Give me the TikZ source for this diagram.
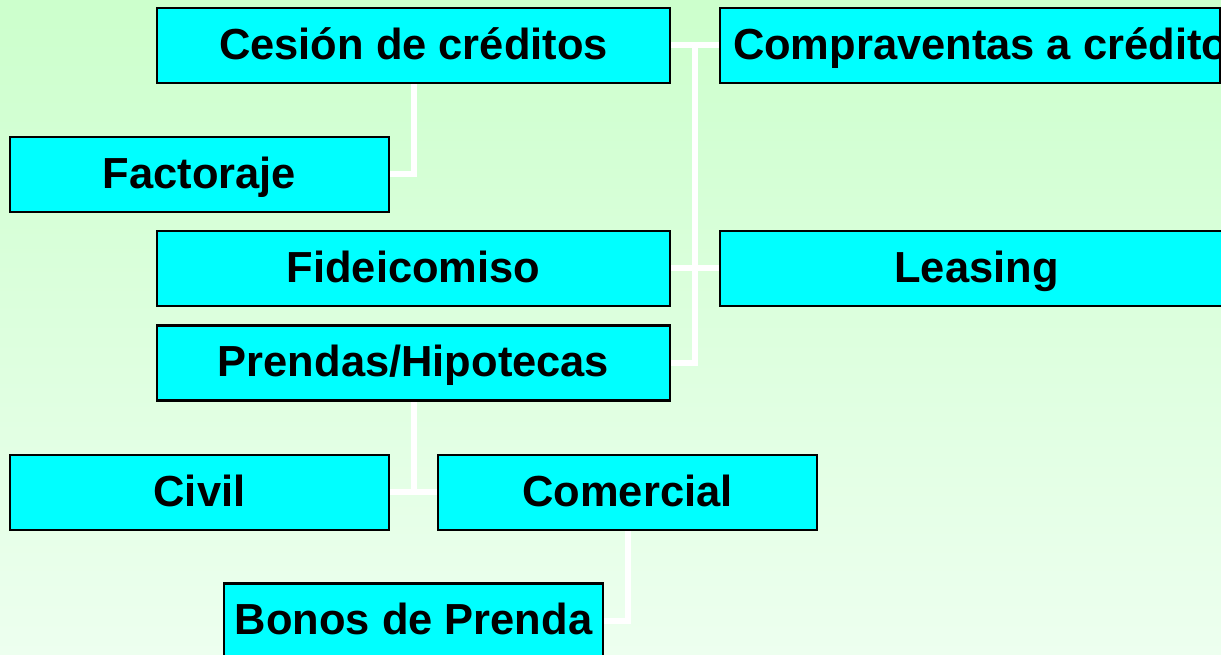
\documentclass[tikz,border=0pt]{standalone}
\usepackage{fontspec}
\setmainfont{Liberation Sans}
\usetikzlibrary{calc}
\definecolor{boxcyan}{HTML}{00FFFF}
\definecolor{bgtop}{HTML}{CCFFCC}
\definecolor{bgbot}{HTML}{EDFFEF}
\pgfdeclarelayer{bglayer}
\pgfdeclarelayer{linklayer}
\pgfsetlayers{bglayer,linklayer,main}
\begin{document}
\begin{tikzpicture}[x=0.75pt,y=-0.75pt,
  box/.style={draw=black, line width=1.7pt, fill=boxcyan, inner sep=0pt,
    font=\bfseries\fontsize{32.6}{36}\selectfont, text height=27pt, text depth=6.2pt,
    minimum width=513*0.75pt, minimum height=75*0.75pt},
  narrow/.style={box, minimum width=379*0.75pt},
  link/.style={draw=white, line width=4.5pt, line join=miter}]
\clip (0,0) rectangle (1221,655);
\begin{pgfonlayer}{bglayer}
\shade[top color=bgtop, bottom color=bgbot] (0,0) rectangle (1221,655);
\end{pgfonlayer}
% nodes
\node[box] (ces) at (413.5,45.5) {Cesión de créditos};
\node[box, minimum width=500*0.75pt, inner xsep=13*0.75pt] (comp) at (970,45.5) {\makebox[355.5pt][l]{Compraventas a crédito}};
\node[narrow] (fact) at (199.5,174.5) {Factoraje};
\node[box] (fid) at (413.5,268.5) {Fideicomiso};
\node[box] (leas) at (976.5,268.5) {Leasing};
\node[box] (pren) at (413.5,363) {Prendas/Hipotecas};
\node[narrow] (civ) at (199.5,492.5) {Civil};
\node[narrow] (com) at (627.5,492.5) {Comercial};
\node[narrow] (bon) at (413.5,621) {Bonos de Prenda};
% connectors
\coordinate (spine) at ($(ces.east)!0.5!(comp.west)$);
\begin{pgfonlayer}{linklayer}
\draw[link] (ces.south) |- (fact.east);
\draw[link] (ces.east) -- (comp.west);
\draw[link] (spine) |- (pren.east);
\draw[link] (fid.east) -- (leas.west);
\draw[link] (pren.south) -- (pren.south |- civ.east);
\draw[link] (civ.east) -- (com.west);
\draw[link] (com.south) |- (bon.east);
\end{pgfonlayer}
\end{tikzpicture}
\end{document}
